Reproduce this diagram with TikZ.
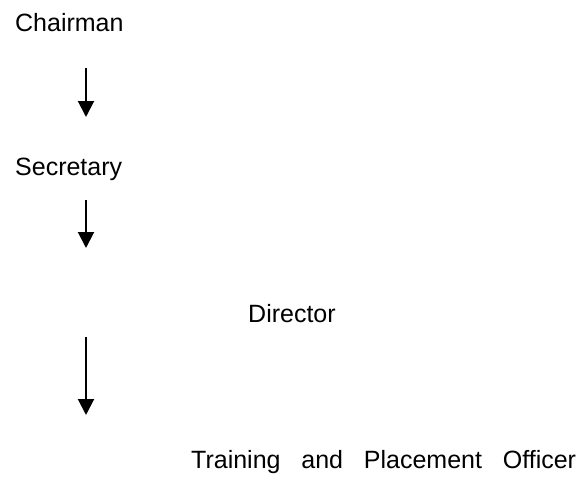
\documentclass[tikz,border=0pt]{standalone}
\usepackage{fontspec}
\setmainfont{Liberation Sans}
\usetikzlibrary{arrows.meta}
\begin{document}
\begin{tikzpicture}[x=1pt,y=-1pt,
    lbl/.style={inner sep=0pt,anchor=base west,font=\fontsize{25}{30}\selectfont},
    down/.style={line width=2pt,-{Triangle[width=16pt,length=16pt]}}]
      \useasboundingbox (0,0) rectangle (587,477);
      \draw
        (15,31) node[lbl] (chair){Chairman}
        (15,175) node[lbl] (secr){Secretary}
        (248,322) node[lbl] (dir){Director}
        (191,468) node[lbl] (tpo){Training~~~and~~~Placement~~~Officer};
      \coordinate (a1) at (86,68);
      \coordinate (b1) at (86,117);
      \coordinate (a2) at (86,200);
      \coordinate (b2) at (86,248);
      \coordinate (a3) at (86,337);
      \coordinate (b3) at (86,415);
      \begin{scope}[down]
        \draw (a1) to (b1);
        \draw (a2) to (b2);
        \draw (a3) to (b3);
      \end{scope}
    \end{tikzpicture}
\end{document}
